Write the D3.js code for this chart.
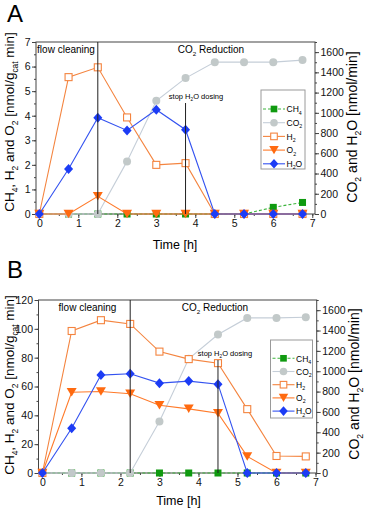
<!DOCTYPE html>
<html><head><meta charset="utf-8">
<script src="https://cdn.jsdelivr.net/npm/d3@7"></script>
<style>
html,body{margin:0;padding:0;background:#fff;}
svg{display:block;font-family:"Liberation Sans",Arial,sans-serif;}
</style></head>
<body>
<svg id="chart" width="367" height="510"></svg>
<script>
// ---- data ----
const time = [0, 0.75, 1.5, 2.25, 3, 3.75, 4.5, 5.25, 6, 6.75];

const ch4A = [0, 0, 0, 0, 0, 0, 0, 0, 0.27, 0.47];
const co2A = [0, 0, 0, 520, 1119, 1343, 1501, 1501, 1501, 1521];
const h2A  = [0, 5.57, 5.97, 3.93, 2.0, 2.07, 0, 0, 0, 0];
const o2A  = [0, 0, 0.72, 0, 0, 0, 0, 0, 0, 0];
const h2oA = [0, 444, 951, 826, 1030, 833, 0, 0, 0, 0];

const ch4B = [0, 0, 0, 0, 0, 0, 0, 0, 0, 0];
const co2B = [0, 0, 0, 0, 507, 1122, 1361, 1524, 1524, 1530];
const h2B  = [0, 98.5, 106, 103.4, 84.2, 79, 76.2, 44.3, 11.8, 11.5];
const o2B  = [0, 56, 56.5, 55, 47, 44.5, 41.5, 11.5, 0, 0];
const h2oB = [0, 439, 962, 975, 883, 903, 873, 0, 0, 0];

const xTicks = [0, 1, 2, 3, 4, 5, 6, 7];
const leftTicksA = [0, 1, 2, 3, 4, 5, 6, 7];
const leftTicksB = [0, 20, 40, 60, 80, 100, 120];
const rightTicks = [0, 200, 400, 600, 800, 1000, 1200, 1400, 1600];

const seriesNames = ["CH4", "CO2", "H2", "O2", "H2O"];
const switchTimeA = [1.5, 3.75];
const switchTimeB = [2.25, 4.5];

// ---- styles ----
const styles = {
  CH4: {color: "#169c16", line: "#3cb43c", dash: "3,2", shape: "square", fill: "#0f9a0f", size: 7, label: [["CH"],["4",1]]},
  CO2: {color: "#c2c9c9", line: "#c5ced8", dash: null, shape: "circle", fill: "#c2c9c9", size: 8, label: [["CO"],["2",1]]},
  H2:  {color: "#f4843f", line: "#f4843f", dash: null, shape: "osquare", fill: "#fff", size: 8, label: [["H"],["2",1]]},
  O2:  {color: "#ff6a10", line: "#ff7a2a", dash: null, shape: "triangle", fill: "#ff6a10", size: 10, label: [["O"],["2",1]]},
  H2O: {color: "#1c3cf5", line: "#3352f0", dash: null, shape: "diamond", fill: "#1c3cf5", size: 9, label: [["H"],["2",1],["O"]]}
};

const svg = d3.select("#chart");

function rich(sel, parts, fs) {
  let wasSub = false;
  parts.forEach(p => {
    const t = sel.append("tspan").text(p[0]);
    if (p[1]) { t.attr("font-size", fs * 0.62).attr("dy", fs * 0.28); wasSub = true; }
    else { if (wasSub) t.attr("dy", -fs * 0.28); wasSub = false; }
  });
  return sel;
}

function marker(g, shape, x, y, s, st) {
  if (shape === "circle") {
    g.append("circle").attr("cx", x).attr("cy", y).attr("r", s / 2).attr("fill", st.fill);
  } else if (shape === "square") {
    g.append("rect").attr("x", x - s / 2).attr("y", y - s / 2).attr("width", s).attr("height", s).attr("fill", st.fill);
  } else if (shape === "osquare") {
    g.append("rect").attr("x", x - s / 2 + 0.5).attr("y", y - s / 2 + 0.5).attr("width", s - 1).attr("height", s - 1)
      .attr("fill", "#fff").attr("stroke", st.color).attr("stroke-width", 1.1);
  } else if (shape === "triangle") {
    const h = s * 0.85;
    g.append("path").attr("d", `M${x - s / 2},${y - h / 2}L${x + s / 2},${y - h / 2}L${x},${y + h / 2}Z`).attr("fill", st.fill);
  } else if (shape === "diamond") {
    g.append("path").attr("d", `M${x},${y - s / 2 - 0.5}L${x + s / 2},${y}L${x},${y + s / 2 + 0.5}L${x - s / 2},${y}Z`).attr("fill", st.fill);
  }
}

function drawPanel(cfg) {
  const g = svg.append("g");
  const x = d3.scaleLinear().domain(cfg.xDomain).range([cfg.left, cfg.right]);
  const y = d3.scaleLinear().domain([0, cfg.yMax]).range([cfg.bottom, cfg.top]);
  const yr = d3.scaleLinear().domain([0, 1700]).range([cfg.bottom, cfg.top]);

  // panel letter
  g.append("text").attr("x", 7).attr("y", cfg.letterY).attr("font-size", 24).text(cfg.letter);

  // frame
  g.append("rect").attr("x", cfg.left).attr("y", cfg.top).attr("width", cfg.right - cfg.left)
    .attr("height", cfg.bottom - cfg.top).attr("fill", "none").attr("stroke", "#444").attr("stroke-width", 1);

  const axStyle = a => {
    a.select(".domain").remove();
    a.selectAll("line").attr("stroke", "#444");
    a.selectAll("text").attr("font-size", 10.5).attr("fill", "#111").attr("font-family", "Liberation Sans, Arial, sans-serif");
  };
  // minor ticks
  const xMinor = d3.range(0, 7.01, 0.5);
  g.append("g").attr("transform", `translate(0,${cfg.bottom})`)
    .call(d3.axisBottom(x).tickValues(xMinor).tickSize(2).tickFormat("")).call(axStyle);
  g.append("g").attr("transform", `translate(0,${cfg.bottom})`)
    .call(d3.axisBottom(x).tickValues(xTicks).tickSize(4).tickPadding(2).tickFormat(d3.format("d"))).call(axStyle);

  g.append("g").attr("transform", `translate(${cfg.left},0)`)
    .call(d3.axisLeft(y).tickValues(d3.range(0, cfg.yMax + 1e-9, cfg.yMinor)).tickSize(2).tickFormat("")).call(axStyle);
  g.append("g").attr("transform", `translate(${cfg.left},0)`)
    .call(d3.axisLeft(y).tickValues(cfg.leftTicks).tickSize(4).tickPadding(1.5).tickFormat(d3.format("d"))).call(axStyle);

  g.append("g").attr("transform", `translate(${cfg.right},0)`)
    .call(d3.axisRight(yr).tickValues(d3.range(0, 1700.1, 100)).tickSize(2).tickFormat("")).call(axStyle);
  g.append("g").attr("transform", `translate(${cfg.right},0)`)
    .call(d3.axisRight(yr).tickValues(rightTicks).tickSize(4).tickPadding(1.5).tickFormat(d3.format("d"))).call(axStyle);

  // series
  const data = cfg.data;
  const scaleFor = name => (name === "CO2" || name === "H2O") ? yr : y;
  seriesNames.forEach(name => {
    const st = styles[name];
    const sc = scaleFor(name);
    const vals = data[name];
    const line = d3.line().x((d, i) => x(time[i])).y(d => sc(d));
    g.append("path").datum(vals).attr("d", line).attr("fill", "none").attr("stroke", st.line)
      .attr("stroke-width", 1.1).attr("stroke-dasharray", st.dash);
    const mg = g.append("g");
    vals.forEach((v, i) => marker(mg, st.shape, x(time[i]), sc(v), st.size, st));
  });

  // vertical switch lines
  g.append("line").attr("x1", x(cfg.switches[0])).attr("x2", x(cfg.switches[0]))
    .attr("y1", cfg.top).attr("y2", cfg.bottom).attr("stroke", "#222").attr("stroke-width", 1);
  g.append("line").attr("x1", x(cfg.switches[1])).attr("x2", x(cfg.switches[1]))
    .attr("y1", cfg.stopY + 4).attr("y2", cfg.bottom).attr("stroke", "#222").attr("stroke-width", 1);

  // annotations
  g.append("text").attr("x", cfg.flowX).attr("y", cfg.top + 11).attr("font-size", 10).attr("text-anchor", "middle").text("flow cleaning");
  rich(g.append("text").attr("x", cfg.redX).attr("y", cfg.top + 11).attr("font-size", 10).attr("text-anchor", "middle"),
    [["CO"], ["2", 1], [" Reduction"]], 10);
  rich(g.append("text").attr("x", cfg.stopX).attr("y", cfg.stopY).attr("font-size", 7.5).attr("text-anchor", "middle"),
    [["stop H"], ["2", 1], ["O dosing"]], 7.5);

  // legend
  const L = cfg.legend;
  g.append("rect").attr("x", L.x).attr("y", L.y).attr("width", L.w).attr("height", L.h)
    .attr("fill", "#fff").attr("stroke", "#9a9a9a").attr("stroke-width", 1);
  seriesNames.forEach((name, i) => {
    const st = styles[name];
    const ly = L.y0 + i * L.dy;
    g.append("line").attr("x1", L.x + 2).attr("x2", L.x + 24).attr("y1", ly).attr("y2", ly)
      .attr("stroke", st.line).attr("stroke-width", 1.1).attr("stroke-dasharray", st.dash);
    marker(g, st.shape, L.x + 13, ly, st.size * 0.95, st);
    rich(g.append("text").attr("x", L.x + 25.5).attr("y", ly + 3.2).attr("font-size", 8.5), st.label, 8.5);
  });

  // axis titles
  g.append("text").attr("x", cfg.xTitleX).attr("y", cfg.xTitleY).attr("font-size", 12.5).attr("text-anchor", "middle").text("Time [h]");
  const lt = g.append("text").attr("transform", `translate(${cfg.leftTitleX},${cfg.leftTitleY}) rotate(-90)`)
    .attr("font-size", 13.5).attr("text-anchor", "middle");
  rich(lt, [["CH"], ["4", 1], [", H"], ["2", 1], [" and O"], ["2", 1], [" [nmol/g"], ["cat", 1], [" min]"]], 13.5);
  const rt = g.append("text").attr("transform", `translate(${cfg.rightTitleX},${cfg.rightTitleY}) rotate(-90)`)
    .attr("font-size", 14).attr("text-anchor", "middle");
  rich(rt, [["CO"], ["2", 1], [" and H"], ["2", 1], ["O [nmol/min]"]], 14);
}

drawPanel({
  letter: "A", letterY: 22,
  left: 36, right: 315, top: 42, bottom: 214, xDomain: [-0.085, 7.07],
  yMax: 7, yMinor: 0.5, leftTicks: leftTicksA,
  data: {CH4: ch4A, CO2: co2A, H2: h2A, O2: o2A, H2O: h2oA},
  switches: switchTimeA, stopX: 196, stopY: 99,
  flowX: 66, redX: 211,
  legend: {x: 261, y: 90, w: 44, h: 79, y0: 109, dy: 13.7},
  xTitleX: 175, xTitleY: 249, leftTitleX: 14, leftTitleY: 122, rightTitleX: 357, rightTitleY: 127
});

drawPanel({
  letter: "B", letterY: 278,
  left: 38.5, right: 316.7, top: 300, bottom: 473, xDomain: [-0.1, 7.03],
  yMax: 120, yMinor: 10, leftTicks: leftTicksB,
  data: {CH4: ch4B, CO2: co2B, H2: h2B, O2: o2B, H2O: h2oB},
  switches: switchTimeB, stopX: 225, stopY: 356,
  flowX: 87.5, redX: 215,
  legend: {x: 270.5, y: 340, w: 42, h: 78, y0: 358.3, dy: 13.2},
  xTitleX: 178.5, xTitleY: 505, leftTitleX: 14, leftTitleY: 385, rightTitleX: 359, rightTitleY: 384
});
</script>
</body></html>
